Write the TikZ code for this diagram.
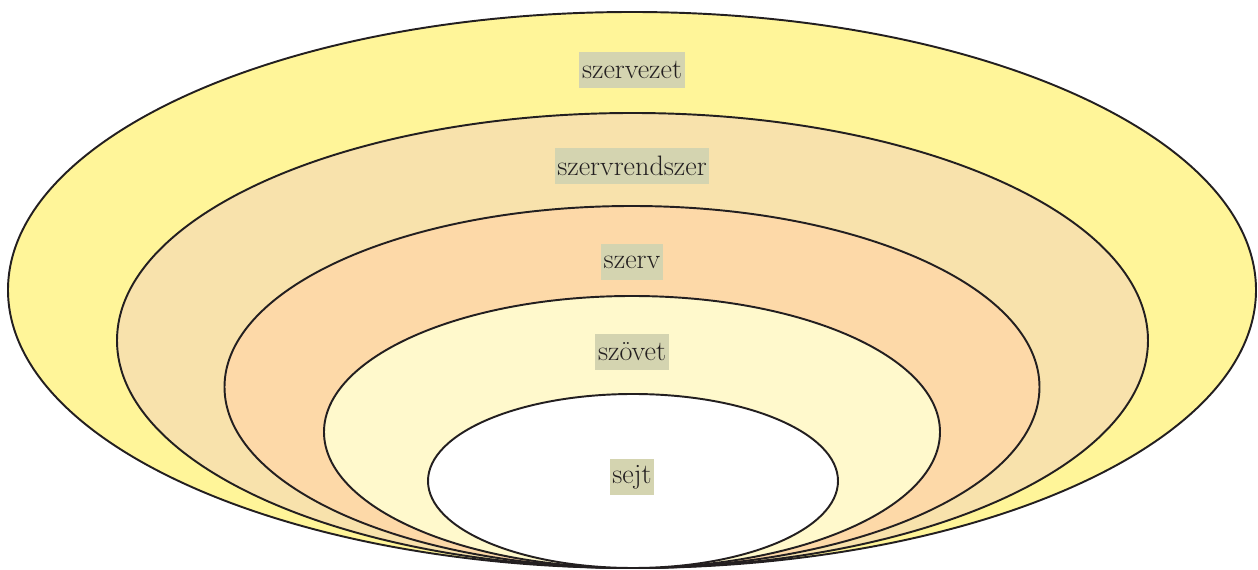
\documentclass[tikz,border=0pt]{standalone}
\usepackage{xcolor}
\usepackage{tikz}
\usetikzlibrary{positioning}

\definecolor{szervezetcol}{HTML}{FFF599}
\definecolor{rendszercol}{HTML}{F8E2AC}
\definecolor{szervcol}{HTML}{FDD9A8}
\definecolor{szovetcol}{HTML}{FFF9CC}
\definecolor{cimkecol}{HTML}{D4D4B0}
\definecolor{vonalcol}{HTML}{231F20}

\begin{document}
\begin{tikzpicture} [scale=1,
  szint/.style={draw=vonalcol, line width=1.1pt},
  cimke/.style={fill=cimkecol, inner sep=1.5pt, minimum height=21pt, text=vonalcol, font=\fontsize{16}{18}\selectfont}]

\useasboundingbox (0,0) rectangle (25.16,11.4);

\filldraw [szint, fill=szervezetcol] (12.64,5.60) ellipse (12.48 and 5.56);
\filldraw [szint, fill=rendszercol] (12.65,4.59) ellipse (10.31 and 4.55);
\filldraw [szint, fill=szervcol] (12.64,3.66) ellipse (8.15 and 3.62);
\filldraw [szint, fill=szovetcol] (12.64,2.76) ellipse (6.16 and 2.72);
\filldraw [szint, fill=white] (12.66,1.78) ellipse (4.10 and 1.74);

\node [cimke] (szervezet) at (12.64,10.00) {szervezet};
\node [cimke] (szervrendszer) at (12.64,8.08) {szervrendszer};
\node [cimke] (szerv) at (12.64,6.16) {szerv};
\node [cimke] (szovet) at (12.64,4.36) {szövet};
\node [cimke] (sejt) at (12.64,1.86) {sejt};

\end{tikzpicture}
\end{document}
